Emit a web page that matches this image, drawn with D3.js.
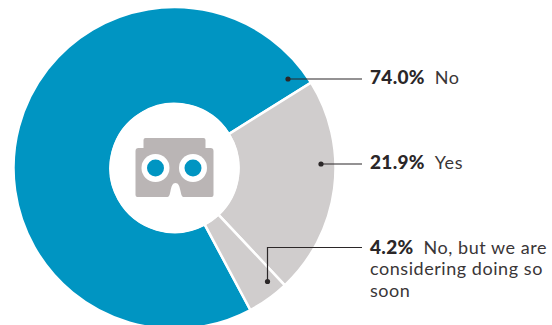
<!DOCTYPE html>
<html>
<head>
<meta charset="utf-8">
<script src="https://cdn.jsdelivr.net/npm/d3@7"></script>
<style>
html,body{margin:0;padding:0;background:#fff}
svg{display:block}
text{font-family:Lato,sans-serif;font-size:18px;letter-spacing:.55px;fill:#3a3637}
.pct{font-weight:900;font-size:19px;fill:#2b2728;letter-spacing:.3px}
</style>
</head>
<body>
<svg width="552" height="325"></svg>
<script>
const categories = ["No", "Yes", "No, but we are considering doing so soon"];
const shares = [74.0, 21.9, 4.2];
const shareLabels = ["74.0%", "21.9%", "4.2%"];
const labelLines = [["No"], ["Yes"], ["No, but we are", "considering doing so", "soon"]];
const sliceColors = ["#0095c2", "#d0cdcd", "#d0cdcd"];

const svg = d3.select("svg");
const cx = 174.5, cy = 168, outer = 161, inner = 64;
const deg = Math.PI / 180;

// First slice ends at 58 degrees clockwise from north, running through the left side.
const end = 58 * deg + 2 * Math.PI * (1 - shares[0] / d3.sum(shares));
const pie = d3.pie().sort(null).startAngle(end - 2 * Math.PI).endAngle(end);
const arcs = pie(shares);
const arc = d3.arc().innerRadius(inner).outerRadius(outer);

const g = svg.append("g").attr("transform", `translate(${cx},${cy})`);
g.selectAll("path.slice").data(arcs).join("path")
  .attr("class", "slice")
  .attr("d", arc)
  .attr("fill", (d, i) => sliceColors[i])
  .attr("stroke", "#fff")
  .attr("stroke-width", 2.5);

// Centre disc carrying the VR viewer icon
g.append("circle").attr("r", inner + 1).attr("fill", "#fff");
const icon = svg.append("g").attr("transform", `translate(${cx},${cy})`);
icon.append("path").attr("fill", "#bab5b5").attr("d",
  "M-31,-28 a2,2 0 0 1 2,-2 h58 a2,2 0 0 1 2,2 v8 h5 a3,3 0 0 1 3,3 v44 a2,2 0 0 1 -2,2 h-27 " +
  "c-3,0 -3,-2 -4,-6 c-1,-5 -2,-8 -5,-8 c-3,0 -4,3 -5,8 c-1,4 -1,6 -4,6 h-29 a2,2 0 0 1 -2,-2 v-44 a3,3 0 0 1 3,-3 h5 z");
[-19, 18.5].forEach(dx => {
  icon.append("circle").attr("cx", dx).attr("cy", 0).attr("r", 14).attr("fill", "#fff");
  icon.append("circle").attr("cx", dx).attr("cy", 0).attr("r", 8.5).attr("fill", "#0095c2");
});

// Leader lines: dot inside the slice, rule out to the label
const leaders = [
  {dot: [288, 79], pts: [[288, 79], [362, 79]], text: [370, 84]},
  {dot: [321, 164], pts: [[321, 164], [362, 164]], text: [370, 169]},
  {dot: [267.5, 281.5], pts: [[267.5, 281.5], [267.5, 247.5], [362, 247.5]], text: [370, 253.5]}
];
const line = d3.line();
leaders.forEach((l, i) => {
  svg.append("path").attr("d", line(l.pts)).attr("fill", "none").attr("stroke", "#2b2728").attr("stroke-width", 1.2);
  svg.append("circle").attr("cx", l.dot[0]).attr("cy", l.dot[1]).attr("r", 2.6).attr("fill", "#2b2728");
  const t = svg.append("text").attr("x", l.text[0]).attr("y", l.text[1]);
  t.append("tspan").attr("class", "pct").text(shareLabels[i]);
  t.append("tspan").attr("dx", 10).text(labelLines[i][0]);
  labelLines[i].slice(1).forEach((s, j) => {
    svg.append("text").attr("x", l.text[0]).attr("y", l.text[1] + 21.5 * (j + 1)).text(s);
  });
});
</script>
</body>
</html>
